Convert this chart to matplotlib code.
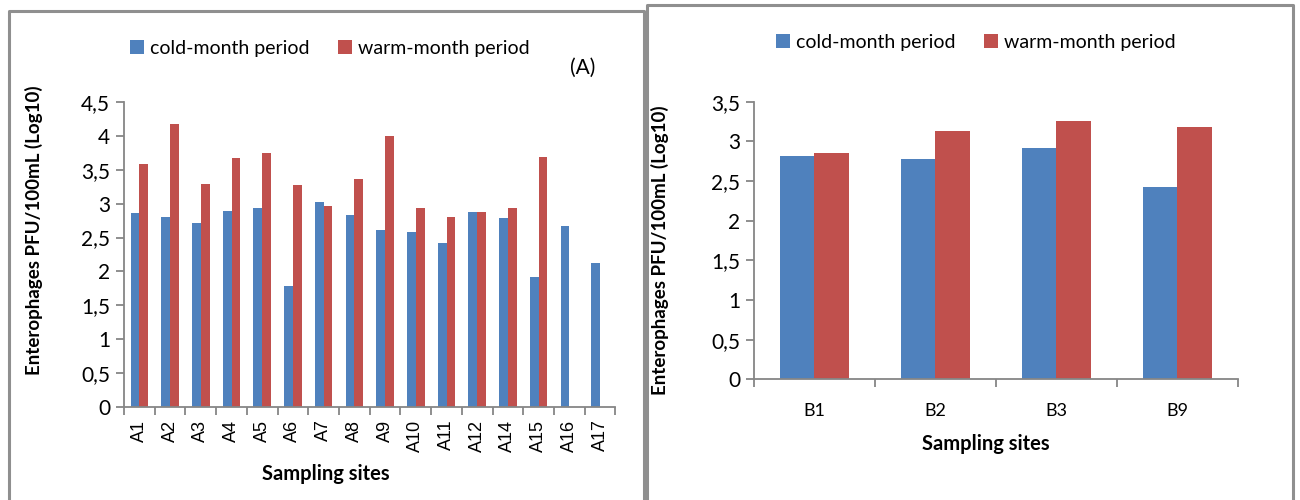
import matplotlib
matplotlib.use("Agg")
import matplotlib.pyplot as plt
from matplotlib.ticker import FixedLocator, FuncFormatter
import numpy as np

# Panel A data
sites_a = ["A1", "A2", "A3", "A4", "A5", "A6", "A7", "A8", "A9", "A10",
           "A11", "A12", "A14", "A15", "A16", "A17"]
cold_a = [2.86, 2.81, 2.71, 2.89, 2.94, 1.78, 3.03, 2.83, 2.61, 2.58,
          2.42, 2.88, 2.79, 1.92, 2.67, 2.13]
warm_a = [3.58, 4.17, 3.29, 3.68, 3.75, 3.27, 2.96, 3.37, 4.00, 2.94,
          2.80, 2.88, 2.93, 3.69, 0, 0]

# Panel B data
sites_b = ["B1", "B2", "B3", "B9"]
cold_b = [2.82, 2.78, 2.92, 2.42]
warm_b = [2.86, 3.13, 3.26, 3.18]

BLUE = "#4F81BD"
RED = "#C0504D"
AXIS = "#868686"
FONT = "Lato"

plt.rcParams['font.family'] = [FONT, 'DejaVu Sans']

fig = plt.figure(figsize=(13, 5), dpi=100)

# panel frames (open at the bottom, as in the source)
for x0, y0, x1 in [(9, 11, 644), (647, 5, 1293)]:
    fx0, fx1 = x0 / 1300, x1 / 1300
    fy = 1 - y0 / 500
    fig.add_artist(plt.Line2D([fx0, fx0, fx1, fx1], [-0.02, fy, fy, -0.02],
                              color="#8f8f8f", lw=2.2, transform=fig.transFigure))


def comma(v, pos):
    return f"{v:g}".replace(".", ",")


def draw(ax, sites, cold, warm, ymax, rot):
    x = np.arange(len(sites))
    w = 0.286
    ax.bar(x - w / 2, cold, w, color=BLUE, label="cold-month period")
    ax.bar(x + w / 2, warm, w, color=RED, label="warm-month period")
    ax.set_xlim(-0.5, len(sites) - 0.5)
    ax.set_ylim(0, ymax)
    ax.set_yticks(np.arange(0, ymax + 0.01, 0.5))
    ax.yaxis.set_major_formatter(FuncFormatter(comma))
    ax.set_xticks(x)
    ax.xaxis.set_minor_locator(FixedLocator(np.arange(-0.5, len(sites), 1)))
    ax.tick_params(axis="x", which="minor", length=6, color=AXIS, width=1.3)
    ax.tick_params(axis="y", length=6, color=AXIS, width=1.3, labelsize=15, pad=4)
    if rot:
        ax.tick_params(axis="x", which="major", length=0, pad=9)
        ax.set_xticklabels(sites, rotation=90, fontsize=13,
                           fontfamily="Liberation Sans")
    else:
        ax.tick_params(axis="x", which="major", length=0, pad=17)
        ax.set_xticklabels(sites, fontsize=13)
    for s in ["top", "right"]:
        ax.spines[s].set_visible(False)
    for s in ["left", "bottom"]:
        ax.spines[s].set_color(AXIS)
        ax.spines[s].set_linewidth(1.3)
    ax.set_ylabel("Enterophages PFU/100mL (Log10)", fontsize=13.5, fontweight="bold")
    ax.set_xlabel("Sampling sites", fontsize=14.5, fontweight="bold")


legend_kw = dict(loc="center", ncol=2, frameon=False, fontsize=14,
                 handlelength=0.7, handleheight=0.7, handletextpad=0.3,
                 columnspacing=1.5)

ax1 = fig.add_axes([0.0954, 0.186, 0.378, 0.61])
draw(ax1, sites_a, cold_a, warm_a, 4.5, True)
ax1.yaxis.set_label_coords(-0.164, 0.58)
ax1.xaxis.set_label_coords(0.41, -0.188)
ax1.legend(bbox_to_anchor=(0.419, 1.177), **legend_kw)
fig.text(583 / 1300, 1 - 68 / 500, "(A)", fontsize=15, ha="center", va="center")

ax2 = fig.add_axes([0.58, 0.2414, 0.372, 0.555])
draw(ax2, sites_b, cold_b, warm_b, 3.5, False)
ax2.yaxis.set_label_coords(-0.175, 0.465)
ax2.xaxis.set_label_coords(0.48, -0.197)
ax2.legend(bbox_to_anchor=(0.459, 1.215), **legend_kw)

fig.savefig("out.png", dpi=100, facecolor="white")
